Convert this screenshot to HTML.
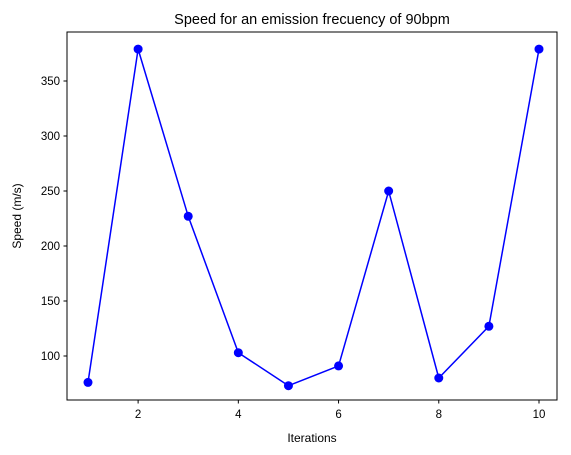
<!DOCTYPE html>
<html><head><meta charset="utf-8"><style>
body{margin:0;background:#fff;}
svg{display:block;font-family:"Liberation Sans","DejaVu Sans",sans-serif;}
</style></head><body>
<svg id="chart" width="571" height="455">
<rect x="0" y="0" width="571" height="455" fill="#fff"/>
<text x="312" y="24" text-anchor="middle" font-size="14.5">Speed for an emission frecuency of 90bpm</text>
<g id="xticks"></g>
<g id="yticks"></g>
<g id="series"></g>
<rect x="67" y="32" width="490" height="368" fill="none" stroke="#000" stroke-width="1"/>
<text x="312" y="442" text-anchor="middle" font-size="12">Iterations</text>
<text transform="translate(21,216) rotate(-90)" text-anchor="middle" font-size="12">Speed (m/s)</text>
</svg>
<script>
const iterations=[1,2,3,4,5,6,7,8,9,10];
const speeds=[76,379,227,103,73,91,250,80,127,379];
const xTickLabels=[2,4,6,8,10];
const yTickLabels=[100,150,200,250,300,350];
const NS="http://www.w3.org/2000/svg";
function xs(v){return 88+(v-1)*(539-88)/9;}
function ys(v){return 356-(v-100)*(275/250);}
function mk(tag,attrs,parent){const e=document.createElementNS(NS,tag);for(const k in attrs)e.setAttribute(k,attrs[k]);parent.appendChild(e);return e;}
const gx=document.getElementById('xticks'),gy=document.getElementById('yticks'),gs=document.getElementById('series');
xTickLabels.forEach(v=>{
 const l=mk('line',{x1:xs(v),x2:xs(v),y1:400,y2:403.5,stroke:'#000'},gx);
 
 
 const t=mk('text',{x:xs(v),y:418,'text-anchor':'middle','font-size':'11.5'},gx);t.textContent=v;
 
 
});
yTickLabels.forEach(v=>{
 const l=mk('line',{x1:63.5,x2:67,y1:ys(v),y2:ys(v),stroke:'#000'},gy);
 
 
 const t=mk('text',{x:60,y:ys(v)+4,'text-anchor':'end','font-size':'11.5'},gy);t.textContent=v;
 
 
});
const pts=iterations.map((x,i)=>xs(x)+','+ys(speeds[i])).join(' ');
const pl=mk('polyline',{points:pts,fill:'none',stroke:'#0000ff','stroke-width':1.5},gs);


iterations.forEach((x,i)=>{
 const c=mk('circle',{cx:xs(x),cy:ys(speeds[i]),r:4.5,fill:'#0000ff'},gs);
 
 
});
</script>
</body></html>
